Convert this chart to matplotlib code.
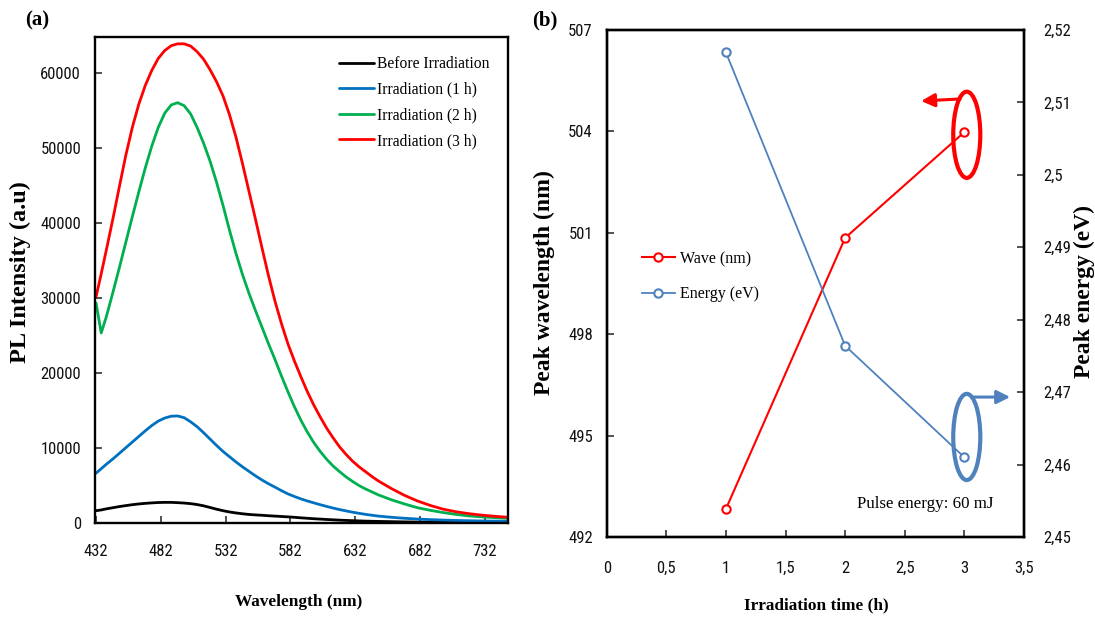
import matplotlib
matplotlib.use('Agg')
import matplotlib.pyplot as plt
from matplotlib.patches import Ellipse
from matplotlib.ticker import FixedLocator, FuncFormatter
from matplotlib import font_manager

# ---------------- data ----------------
wavelength = [432, 436, 440, 445, 450, 455, 460, 465, 470, 475, 480, 485, 490, 495, 500,
              505, 510, 515, 520, 525, 530, 535, 540, 545, 550, 555, 560, 565, 570, 575,
              580, 585, 590, 595, 600, 605, 610, 615, 620, 625, 630, 635, 640, 645, 650,
              660, 670, 680, 690, 700, 710, 720, 730, 740, 750]
before_irr = [1600, 1700, 1850, 2000, 2150, 2280, 2400, 2500, 2580, 2640, 2690, 2710, 2710,
              2670, 2620, 2540, 2420, 2250, 2030, 1800, 1600, 1430, 1300, 1190, 1100, 1040,
              990, 930, 880, 830, 780, 720, 650, 590, 530, 480, 430, 385, 340, 305, 270,
              240, 210, 190, 170,
              140, 110, 90, 70, 60, 50, 45, 40, 35, 30]
irr_1h = [6600, 7200, 7800, 8500, 9250, 10000, 10750, 11500, 12250, 12950, 13550, 13950,
          14200, 14230, 14000, 13450, 12800, 12000, 11150, 10300, 9500, 8800, 8100, 7450,
          6850, 6250, 5700, 5200, 4750, 4280, 3850, 3500, 3180, 2900, 2650, 2400, 2170,
          1950, 1750, 1570, 1400, 1250, 1110, 990, 880,
          720, 590, 490, 410, 350, 300, 260, 230, 210, 190]
irr_2h = [29300, 25300, 27500, 30700, 34000, 37400, 40800, 44100, 47300, 50200, 52700, 54600,
          55700, 56000, 55600, 54500, 52700, 50600, 48200, 45400, 42300, 39000, 35900, 33100,
          30600, 28300, 26100, 23900, 21800, 19600, 17500, 15500, 13700, 12100, 10700, 9500,
          8450, 7550, 6800, 6100, 5500, 4950, 4500, 4100, 3700,
          3050, 2500, 2000, 1650, 1350, 1100, 900, 770, 670, 580]
irr_3h = [30100, 33200, 36400, 40500, 44800, 49000, 52700, 55800, 58300, 60300, 61900, 62950,
          63600, 63850, 63850, 63550, 62800, 61800, 60400, 58800, 56900, 54400, 51400, 47900,
          44200, 40500, 36700, 33000, 29600, 26600, 23900, 21600, 19500, 17500, 15700, 14100,
          12600, 11300, 10100, 9100, 8200, 7450, 6800, 6150, 5550,
          4550, 3650, 2900, 2300, 1800, 1450, 1200, 1000, 850, 720]
series_labels = ['Before Irradiation', 'Irradiation (1 h)', 'Irradiation (2 h)', 'Irradiation (3 h)']
xticks_a = [432, 482, 532, 582, 632, 682, 732]
yticks_a = [0, 10000, 20000, 30000, 40000, 50000, 60000]

irr_time = [1, 2, 3]
peak_wave = [492.83, 500.85, 503.98]
peak_energy = [2.5169, 2.4764, 2.4610]
xticks_b = [0, 0.5, 1, 1.5, 2, 2.5, 3, 3.5]
yticks_wave = [492, 495, 498, 501, 504, 507]
yticks_energy = [2.45, 2.46, 2.47, 2.48, 2.49, 2.50, 2.51, 2.52]

# ---------------- fonts ----------------
ttf = font_manager.fontManager.ttflist
names = {f.name for f in ttf}
TICKF, TS, TSTRETCH = ['Liberation Sans'], 11.0, 'normal'
for cand, size in [('Liberation Sans Narrow', 12.3), ('Roboto Condensed', 12.0),
                   ('Noto Sans Condensed', 12.0), ('Open Sans Condensed', 12.0),
                   ('DejaVu Sans Condensed', 11.5)]:
    if cand in names:
        TICKF, TS = [cand], size
        break
else:
    if any(f.name == 'DejaVu Sans' and f.stretch == 'condensed' for f in ttf):
        TICKF, TS, TSTRETCH = ['DejaVu Sans'], 11.5, 'condensed'
SERIF = ['Liberation Serif', 'DejaVu Serif']

W, H = 1095, 621
fig = plt.figure(figsize=(W / 100, H / 100), dpi=100)


def px_axes(x0, y0, x1, y1):
    return fig.add_axes([x0 / W, 1 - y1 / H, (x1 - x0) / W, (y1 - y0) / H])


def fx(x):
    return x / W


def fy(y):
    return 1 - y / H


def comma_fmt(v, pos=None):
    s = ('%.2f' % v).rstrip('0').rstrip('.')
    return s.replace('.', ',')


def style_ticklabels(labels):
    for lab in labels:
        lab.set_fontfamily(TICKF)
        lab.set_fontsize(TS)
        lab.set_fontstretch(TSTRETCH)
        lab.set_color('#111111')


# ---------------- panel (a) ----------------
axA = px_axes(95, 37, 507.7, 522.7)
colors_a = ['black', '#0070C0', '#00B050', '#FF0000']
for ys, c, lab in zip([before_irr, irr_1h, irr_2h, irr_3h], colors_a, series_labels):
    axA.plot(wavelength, ys, color=c, lw=2.0, label=lab, solid_joinstyle='round',
             solid_capstyle='round')
axA.set_xlim(431.2, 749.7)
axA.set_ylim(0, 64760)
axA.xaxis.set_major_locator(FixedLocator(xticks_a))
axA.yaxis.set_major_locator(FixedLocator(yticks_a))
axA.tick_params(axis='both', direction='in', length=5, width=1.2, color='#333333')
axA.tick_params(axis='x', pad=15)
axA.tick_params(axis='y', pad=10)
style_ticklabels(axA.get_xticklabels() + axA.get_yticklabels())
for s in axA.spines.values():
    s.set_linewidth(1.7)
axA.legend(loc='upper left', bbox_to_anchor=(fx(339), fy(56)),
           bbox_transform=fig.transFigure, frameon=False, borderpad=0,
           borderaxespad=0, handlelength=2.25, handletextpad=0.2,
           labelspacing=0.62, prop={'family': SERIF, 'size': 11.2})

fig.text(fx(20), fy(272), 'PL Intensity (a.u)', rotation=90, ha='center', va='center',
         family=SERIF, weight='bold', size=17.5)
fig.text(fx(299), fy(602), 'Wavelength (nm)', ha='center', va='center',
         family=SERIF, weight='bold', size=12.4)
fig.text(fx(37), fy(20), '(a)', ha='center', va='center', family=SERIF, weight='bold', size=15)

# ---------------- panel (b) ----------------
axB = px_axes(606.7, 30, 1024, 537)
red = '#FF0000'
blue = '#4F81BD'
l1, = axB.plot(irr_time, peak_wave, color=red, lw=1.5, marker='o', ms=6, mfc='white',
               mec=red, mew=1.5, label='Wave (nm)')
axB.set_xlim(0, 3.5)
axB.set_ylim(492, 507)
axB.xaxis.set_major_locator(FixedLocator(xticks_b))
axB.yaxis.set_major_locator(FixedLocator(yticks_wave))
axB.xaxis.set_major_formatter(FuncFormatter(comma_fmt))

axR = axB.twinx()
l2, = axR.plot(irr_time, peak_energy, color=blue, lw=1.3, marker='o', ms=6, mfc='white',
               mec=blue, mew=1.5, label='Energy (eV)')
axR.set_ylim(2.45, 2.52)
axR.yaxis.set_major_locator(FixedLocator(yticks_energy))
axR.yaxis.set_major_formatter(FuncFormatter(comma_fmt))

for a in (axB, axR):
    a.tick_params(axis='both', direction='in', length=5, width=1.2, color='#333333')
    for s in a.spines.values():
        s.set_linewidth(1.7)
axB.tick_params(axis='x', pad=17)
axB.tick_params(axis='y', pad=10)
axR.tick_params(axis='y', pad=14)
style_ticklabels(axB.get_xticklabels() + axB.get_yticklabels())
style_ticklabels(axR.get_yticklabels())

# annotation ellipses and arrows
axB.add_patch(Ellipse((3.02, 503.9), 0.227, 2.55, fill=False, ec=red, lw=3.0, clip_on=False))
axB.add_patch(Ellipse((3.02, 494.96), 0.227, 2.55, fill=False, ec=blue, lw=3.0, clip_on=False))
axB.annotate('', xy=(2.637, 504.9), xytext=(2.964, 504.96),
             arrowprops=dict(arrowstyle='-|>', color=red, lw=2.2, mutation_scale=20,
                             shrinkA=0, shrinkB=0), annotation_clip=False)
axB.annotate('', xy=(3.384, 496.14), xytext=(3.074, 496.14),
             arrowprops=dict(arrowstyle='-|>', color=blue, lw=2.2, mutation_scale=20,
                             shrinkA=0, shrinkB=0), annotation_clip=False)

axR.legend(handles=[l1, l2], loc='upper left', bbox_to_anchor=(fx(641.7), fy(251)),
           bbox_transform=fig.transFigure, frameon=False, borderpad=0, borderaxespad=0,
           handlelength=2.1, handletextpad=0.3, labelspacing=1.2,
           prop={'family': SERIF, 'size': 11.5})

fig.text(fx(857), fy(504), 'Pulse energy: 60 mJ', ha='left', va='center',
         family=SERIF, size=12.2)
fig.text(fx(544), fy(283), 'Peak wavelength (nm)', rotation=90, ha='center', va='center',
         family=SERIF, weight='bold', size=17)
fig.text(fx(1084), fy(292), 'Peak energy (eV)', rotation=90, ha='center', va='center',
         family=SERIF, weight='bold', size=17)
fig.text(fx(816), fy(605), 'Irradiation time (h)', ha='center', va='center',
         family=SERIF, weight='bold', size=12.4)
fig.text(fx(545), fy(20), '(b)', ha='center', va='center', family=SERIF, weight='bold', size=15)

fig.savefig('out.png', dpi=100)
